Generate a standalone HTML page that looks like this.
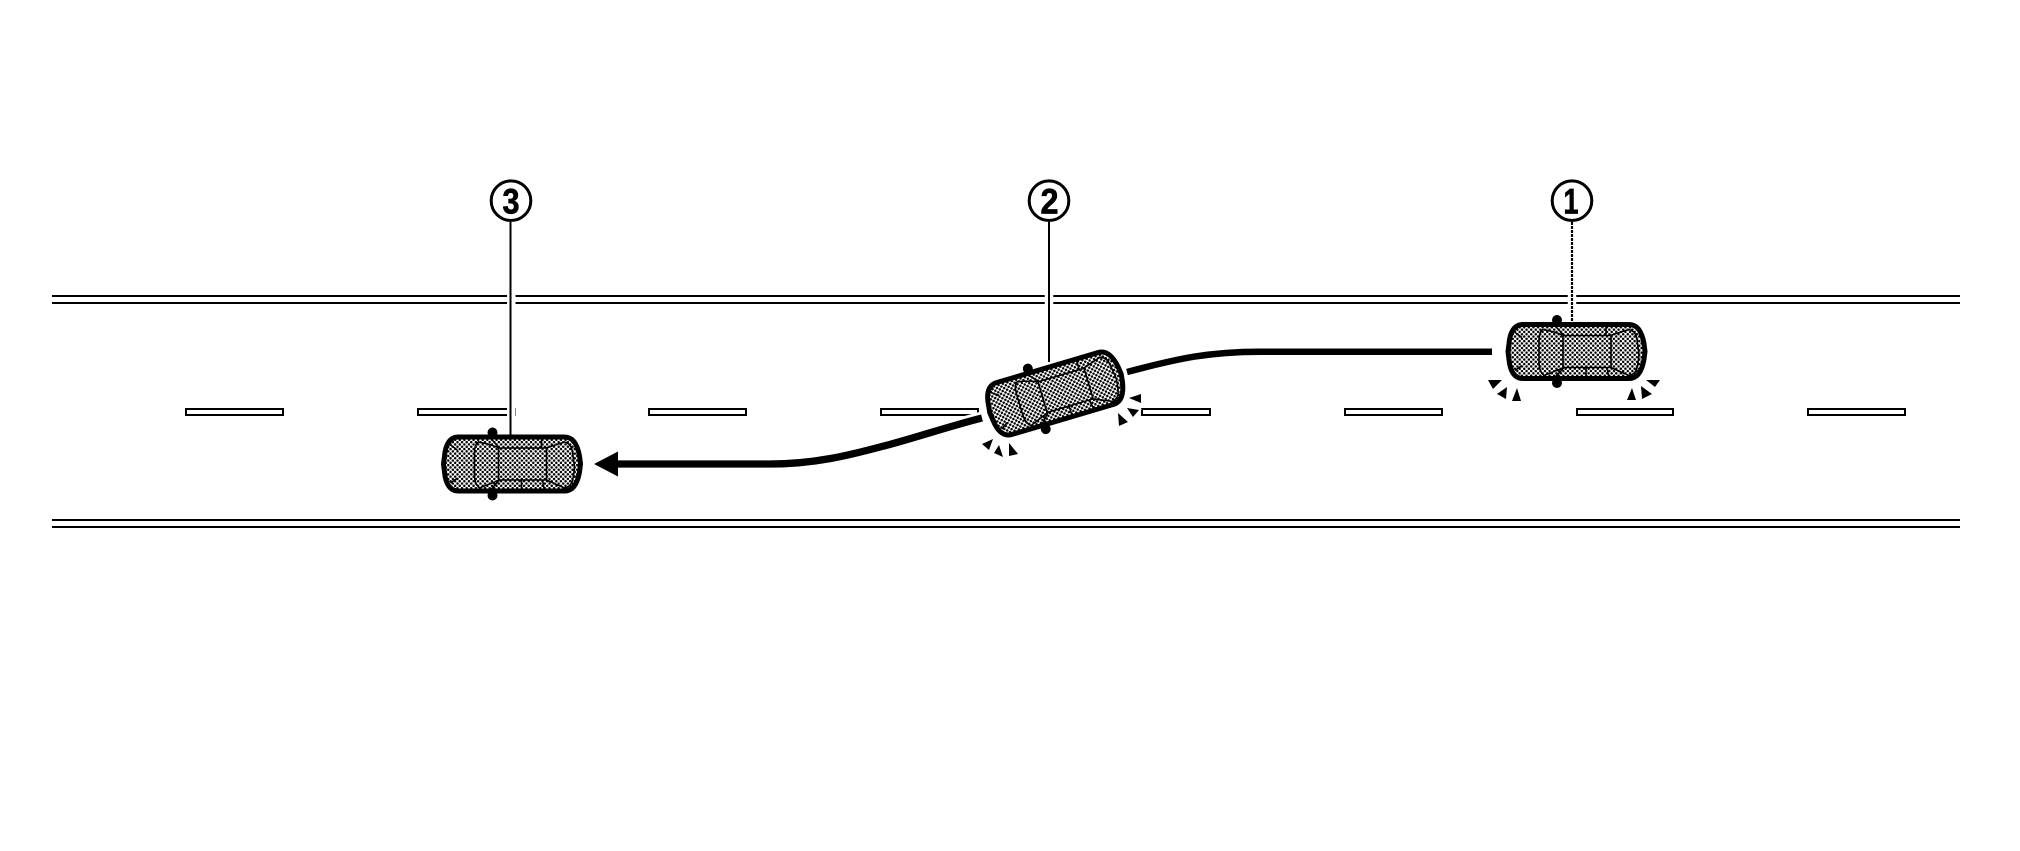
<!DOCTYPE html>
<html><head><meta charset="utf-8"><style>
html,body{margin:0;padding:0;background:#fff}
svg{display:block}
text{font-family:"Liberation Sans",sans-serif;font-weight:bold;fill:#000;stroke:#000;stroke-width:.7;text-anchor:middle}
</style></head><body>
<svg width="2020" height="851" viewBox="0 0 2020 851" xmlns="http://www.w3.org/2000/svg">
<defs>
<pattern id="dots" width="4.6" height="4.6" patternUnits="userSpaceOnUse">
<rect width="4.6" height="4.6" fill="#fff"/>
<circle cx="1.15" cy="1.15" r="1.25" fill="#000"/>
<circle cx="3.45" cy="3.45" r="1.25" fill="#000"/>
</pattern>
<g id="car">
<circle cx="-19" cy="-31.5" r="5" fill="#000"/>
<circle cx="-19" cy="31.5" r="5" fill="#000"/>
<path d="M-53,-27 L53,-27 C62,-27 66,-19 68,-8 L69,0 L68,8 C66,19 62,27 53,27 L-53,27 C-62,27 -66,19 -67,8 L-68,0 L-67,-8 C-66,-19 -62,-27 -53,-27 Z" fill="url(#dots)" stroke="#000" stroke-width="5"/>
<path d="M-37,-10 Q-37,-20 -33,-22 Q-22,-20 -12,-16 L34,-16 Q44,-19 53,-22 Q60,-20 61,-12 L63,3 Q62,15 60,19 Q58,23 53,24 L35,16 L-12,16 Q-22,20 -32,24 Q-37,20 -37,11 Z M-13,-16 L-13,16 M35,-16 L35,16 M-22,-27 L-12,-16 M-22,27 L-12,16 M30,-27 L30,-16 M10,16 L10,27 M31,16 L33,27 M-61,-19 L-54,-14 M-61,19 L-54,14" fill="none" stroke="#000" stroke-width="1.6"/>
</g>
</defs>
<rect width="2020" height="851" fill="#fff"/>
<g fill="#000" shape-rendering="crispEdges">
<rect x="52" y="295" width="1908" height="2"/>
<rect x="52" y="302" width="1908" height="2"/>
<rect x="52" y="519" width="1908" height="2"/>
<rect x="52" y="526" width="1908" height="2"/>
</g>
<g fill="#fff" stroke="#000" stroke-width="2" shape-rendering="crispEdges">
<rect x="186" y="409" width="97" height="6"/>
<rect x="418" y="409" width="97" height="6"/>
<rect x="649" y="409" width="97" height="6"/>
<rect x="881" y="409" width="97" height="6"/>
<rect x="1142" y="409" width="68" height="6"/>
<rect x="1345" y="409" width="97" height="6"/>
<rect x="1577" y="409" width="96" height="6"/>
<rect x="1808" y="409" width="97" height="6"/>
</g>
<g fill="none" stroke="#fff" stroke-width="8.5">
<path d="M511.3,222V432M1049,222V360M1572,222V320"/>
</g>
<path d="M510.5,222V435M1049,222V362" stroke="#000" stroke-width="2"/>
<path d="M1572,222V322" stroke="#000" stroke-width="2.2" stroke-dasharray="3 1"/>
<path d="M1492,351.7 L1260,351.7 C1210,351.7 1180,358 1127,372" fill="none" stroke="#000" stroke-width="6.5"/>
<path d="M982,418 C950,426 905,441 880,447 C850,455 815,464 770,464 L615,464" fill="none" stroke="#fff" stroke-width="13"/>
<path d="M982,418 C950,426 905,441 880,447 C850,455 815,464 770,464 L615,464" fill="none" stroke="#000" stroke-width="7.3" stroke-linejoin="round"/>
<path d="M594,464 L618,451.5 L618,476.5 Z" fill="#000"/>
<use href="#car" transform="translate(1576,351.5)"/>
<use href="#car" transform="translate(511.5,464)"/>
<use href="#car" transform="translate(1055,393.5) rotate(-16.5)"/>
<g fill="#000" stroke="#fff" stroke-width="3" paint-order="stroke">
<path d="M1488,380 L1502,380 L1493,389 Z M1507,387 L1497,394 L1506,399 Z M1517,388 L1512,401 L1521,401 Z"/>
<path d="M1632,388 L1627,400 L1636,400 Z M1641,386 L1652,394 L1642,399 Z M1646,380 L1660,380 L1655,387 Z"/>
<path d="M993,439 L982,444 L989,450 Z M999,445 L994,453 L1003,457 Z M1009,443 L1018,454 L1009,456 Z"/>
<path d="M1118,413 L1128,422 L1119,426 Z M1127,408 L1139,410 L1133,417 Z M1129,398 L1141,394 L1141,403 Z"/>
</g>
<g fill="#fff" stroke="#000" stroke-width="3">
<circle cx="511" cy="200.7" r="19.8"/>
<circle cx="1049" cy="200.7" r="19.8"/>
<circle cx="1572" cy="200.7" r="19.8"/>
</g>
<text x="511" y="213.5" font-size="35" textLength="17" lengthAdjust="spacingAndGlyphs">3</text>
<text x="1049.5" y="213.5" font-size="35" textLength="18" lengthAdjust="spacingAndGlyphs">2</text>
<text x="1571" y="213.5" font-size="35" textLength="15" lengthAdjust="spacingAndGlyphs">1</text>
</svg>
</body></html>
